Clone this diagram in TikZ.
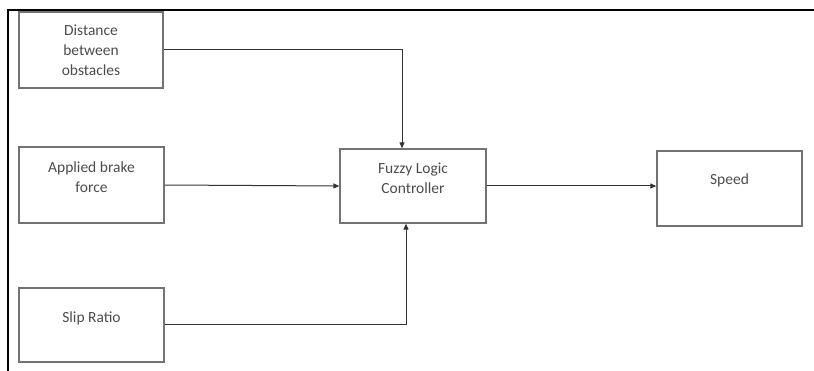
\documentclass[tikz,border=0pt]{standalone}
\usepackage{fontspec}
\setmainfont{Carlito}
\usetikzlibrary{arrows.meta,calc}
\begin{document}
\begin{tikzpicture}[x=1pt,y=-1pt,
  blk/.style={draw=black!55,line width=1.3pt,inner sep=0pt},
  lbl/.style={text=black!70,font=\fontsize{15.5}{20}\selectfont,align=center,inner sep=0pt},
  conn/.style={draw=black!80,line width=1pt,-{Triangle[length=6pt,width=5pt]}}]
\useasboundingbox (0,0) rectangle (814,371);
\draw[line width=2.2pt] (814,10) -- (8,10) -- (8,371);
% boxes
\node[blk,minimum width=144pt,minimum height=76pt] (dist) at (91,50) {};
\node[blk,minimum width=145pt,minimum height=76pt] (brake) at (91.5,185) {};
\node[blk,minimum width=145pt,minimum height=74pt] (slip) at (91.5,325) {};
\node[blk,minimum width=146pt,minimum height=74pt] (fuzzy) at (413,186) {};
\node[blk,minimum width=145pt,minimum height=75pt] (speed) at (729.5,188.5) {};
% texts
\node[lbl] (t1) at (91,50) {Distance\\between\\obstacles};
\node[lbl] (t2) at (91.5,177) {Applied brake\\force};
\node[lbl] (t3) at (91.5,318) {Slip Ratio};
\node[lbl] (t4) at (413,178) {Fuzzy Logic\\Controller};
\node[lbl] (t5) at (729.5,180) {Speed};
% connectors
\draw[conn] (dist.east) -| ([xshift=-11pt]fuzzy.north);
\draw[conn] (brake.east) -- (fuzzy.west);
\draw[conn] (slip.east) -| ([xshift=-7pt]fuzzy.south);
\draw[conn] (fuzzy.east) -- (fuzzy.east -| speed.west);
\end{tikzpicture}
\end{document}
